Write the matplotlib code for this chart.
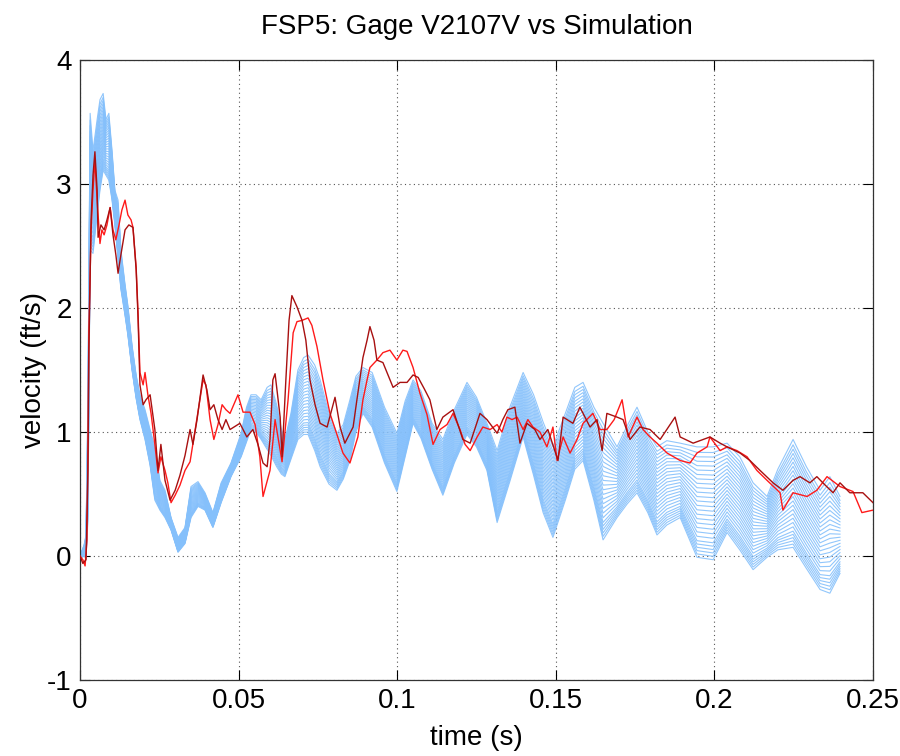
import matplotlib
matplotlib.use("Agg")
import matplotlib.pyplot as plt
import numpy as np

plt.rcParams["font.family"] = ["Liberation Sans", "DejaVu Sans"]
plt.rcParams["axes.unicode_minus"] = False

# ---- simulation ensemble: upper / lower envelope of the runs -------------
sim_time = [0.0, .0013, .0019, .0025, .0032, .0041, .0054, .0063, .0073, .0082,
            .0091, .0101, .011, .012, .0129, .0142, .0151, .0164, .0177, .0189,
            .0205, .0221, .0236, .0252, .0268, .0287, .0309, .0331, .035, .0372,
            .0394, .0419, .0445, .0476, .0508, .0525, .0539, .0555, .0571, .0590,
            .0602, .0620, .0635, .0646, .0665, .0687, .0705, .0719, .0740, .0757,
            .0785, .0810, .0830, .0851, .0870, .0892, .0921, .0960, .0999, .1025,
            .1050, .1075, .1110, .1144, .1180, .1220, .1250, .1283, .1315, .1355,
            .1397, .1430, .1460, .1491, .1530, .1560, .1586, .1620, .1649, .1693,
            .1725, .1756, .1790, .1819, .1850, .1892, .1945, .1996, .2040, .2080,
            .2122, .2166, .2200, .2248, .2290, .2333, .2364, .2396]
sim_upper = [0.00, 0.09, 0.17, 1.26, 3.57, 3.27, 3.52, 3.68, 3.73, 3.52,
             3.57, 3.27, 2.95, 2.87, 2.47, 2.19, 2.02, 1.70, 1.46, 1.30,
             1.18, 1.02, 0.88, 0.61, 0.53, 0.31, 0.15, 0.23, 0.56, 0.60,
             0.51, 0.35, 0.59, 0.75, 0.99, 1.20, 1.30, 1.30, 1.26, 1.36,
             1.38, 1.22, 1.02, 0.94, 1.15, 1.50, 1.60, 1.62, 1.54, 1.42,
             1.15, 0.99, 1.06, 1.26, 1.45, 1.52, 1.48, 1.20, 0.99, 1.25,
             1.42, 1.33, 1.07, 0.94, 1.18, 1.40, 1.28, 1.07, 0.85, 1.20,
             1.48, 1.30, 1.08, 0.88, 1.15, 1.36, 1.40, 1.20, 1.07, 0.88,
             1.05, 1.20, 1.00, 0.88, 0.93, 0.91, 0.88, 0.88, 0.91, 0.80,
             0.59, 0.48, 0.70, 0.94, 0.72, 0.53, 0.64, 0.48]
sim_lower = [-0.02, 0.00, -0.02, 0.29, 2.47, 2.44, 2.75, 2.95, 3.11, 3.07,
             3.03, 2.87, 2.67, 2.39, 2.15, 1.94, 1.78, 1.50, 1.27, 1.10,
             0.94, 0.73, 0.45, 0.37, 0.31, 0.21, 0.03, 0.10, 0.31, 0.40,
             0.37, 0.23, 0.43, 0.64, 0.80, 0.92, 1.02, 1.00, 0.94, 0.86,
             0.81, 0.72, 0.66, 0.64, 0.78, 0.94, 0.98, 0.98, 0.85, 0.72,
             0.58, 0.53, 0.62, 0.77, 1.00, 1.15, 1.04, 0.75, 0.52, 0.80,
             1.07, 0.95, 0.70, 0.49, 0.75, 0.98, 0.88, 0.69, 0.27, 0.60,
             0.96, 0.65, 0.35, 0.15, 0.45, 0.70, 0.77, 0.45, 0.13, 0.31,
             0.42, 0.51, 0.35, 0.17, 0.25, 0.31, -0.01, -0.03, 0.19, 0.05,
             -0.11, -0.01, 0.05, 0.07, -0.10, -0.27, -0.30, -0.14]
# position of each run within the envelope (0 = lower, 1 = upper)
run_position = [0.0, 0.03, 0.06, 0.09, 0.12, 0.15, 0.19, 0.23, 0.27, 0.31,
                0.35, 0.39, 0.43, 0.47, 0.51, 0.55, 0.59, 0.63, 0.67, 0.71,
                0.75, 0.79, 0.83, 0.87, 0.91, 0.95, 1.0]

# ---- gage records -----------------------------------------------------------
gage_a_time = [0, .0009, .0016, .0022, .0025, .0028, .0035, .0041, .0047, .0054,
               .0063, .0069, .0076, .0085, .0095, .0104, .0113, .0123, .0132, .0142,
               .0151, .0161, .0167, .0177, .0183, .0189, .0199, .0205, .0214, .0224,
               .0236, .0246, .0255, .0268, .0277, .0287, .03, .0315, .0331, .0347,
               .0363, .0378, .0388, .0397, .041, .0422, .0435, .0448, .046, .0473,
               .0498, .0514, .0536, .0552, .0567, .0577, .0599, .0615, .0637, .0656,
               .0672, .0684, .07, .0719, .0731, .0747, .0766, .0788, .081, .0829,
               .0851, .0876, .0892, .0905, .0914, .0936, .0955, .0977, .0999, .1018,
               .1031, .105, .1072, .1094, .1113, .1135, .1157, .1176, .1198, .1214,
               .123, .1252, .127, .1293, .1315, .133, .1346, .1362, .1378, .1397,
               .1412, .1428, .145, .1472, .1491, .1504, .1523, .1545, .1567, .1586,
               .1617, .1639, .1661, .1684, .1709, .1728, .1756, .1775, .1797, .1819,
               .1851, .1892, .1923, .1945, .1977, .1986, .2018, .204, .2071, .2103,
               .2134, .2166, .2207, .2216, .2248, .2292, .2323, .2355, .2396, .2437,
               .2465, .25]
gage_a_vel = [0, -0.03, -0.08, 0.13, 0.85, 1.82, 2.63, 2.95, 3.19, 2.87,
              2.52, 2.63, 2.59, 2.67, 2.81, 2.63, 2.55, 2.67, 2.79, 2.87,
              2.75, 2.71, 2.65, 2.33, 1.96, 1.48, 1.38, 1.48, 1.30, 1.15,
              0.90, 0.67, 0.80, 0.69, 0.59, 0.43, 0.49, 0.57, 0.69, 0.76,
              1.02, 1.26, 1.42, 1.38, 1.10, 0.94, 1.06, 1.22, 1.18, 1.15,
              1.30, 1.16, 1.16, 1.06, 0.80, 0.48, 0.69, 1.10, 0.76, 1.26,
              1.80, 1.89, 1.90, 1.92, 1.86, 1.69, 1.42, 1.15, 0.98, 0.83,
              0.75, 0.96, 1.26, 1.42, 1.52, 1.58, 1.64, 1.66, 1.58, 1.66,
              1.65, 1.52, 1.31, 1.14, 0.90, 1.02, 1.06, 1.15, 1.02, 0.90,
              0.85, 0.96, 1.04, 1.02, 1.06, 1.00, 1.12, 1.10, 1.12, 1.02,
              1.10, 1.04, 1.00, 0.88, 1.04, 0.77, 0.96, 0.83, 0.94, 1.07,
              1.15, 1.02, 1.02, 1.10, 1.26, 0.96, 1.12, 1.02, 0.96, 0.91,
              0.83, 0.77, 0.75, 0.83, 0.88, 0.96, 0.85, 0.88, 0.85, 0.80,
              0.69, 0.61, 0.51, 0.37, 0.51, 0.48, 0.53, 0.64, 0.56, 0.52,
              0.35, 0.37]

gage_b_time = [0, .0009, .0019, .0025, .0028, .0035, .0041, .0047, .0054, .0057,
               .0066, .0076, .0085, .0095, .0104, .0113, .012, .0129, .0142, .0154,
               .0167, .0177, .0183, .0189, .0199, .0208, .0221, .0236, .0246, .0255,
               .0268, .0284, .03, .0315, .0331, .0347, .0356, .0369, .0388, .04,
               .041, .0422, .0435, .0448, .046, .0473, .0504, .0526, .0545, .0561,
               .0577, .059, .0599, .0608, .0615, .0631, .0637, .0649, .0659, .0668,
               .0684, .07, .0712, .0725, .0741, .0757, .0779, .0804, .082, .0835,
               .0861, .0873, .0892, .0905, .0914, .0927, .0936, .0955, .0971, .0987,
               .1009, .1031, .105, .1066, .1085, .1103, .1125, .1144, .1176, .1207,
               .123, .1261, .1283, .1315, .1333, .1349, .1371, .1387, .1409, .1434,
               .145, .1475, .1497, .1507, .1523, .1554, .1576, .1608, .163, .1646,
               .1661, .1693, .1712, .1734, .1765, .1797, .1829, .1876, .1892, .1933,
               .1986, .2018, .204, .2081, .2112, .2144, .2185, .2216, .2248, .227,
               .2301, .2323, .2342, .2374, .2396, .2427, .2468, .25]
gage_b_vel = [0, -0.06, -0.03, 0.69, 1.66, 2.71, 3.07, 3.26, 2.95, 2.57,
              2.67, 2.63, 2.71, 2.81, 2.59, 2.43, 2.28, 2.43, 2.63, 2.67,
              2.65, 2.31, 1.92, 1.38, 1.22, 1.26, 1.30, 1.02, 0.69, 0.90,
              0.61, 0.45, 0.53, 0.65, 0.81, 1.02, 0.90, 1.10, 1.46, 1.34,
              1.18, 1.22, 1.10, 1.02, 1.10, 1.02, 1.07, 0.96, 1.02, 0.90,
              0.75, 0.72, 0.94, 1.42, 1.47, 1.12, 0.80, 1.42, 1.90, 2.10,
              2.01, 1.90, 1.74, 1.42, 1.22, 1.07, 1.04, 1.28, 1.04, 0.91,
              1.04, 1.26, 1.60, 1.74, 1.85, 1.74, 1.58, 1.56, 1.46, 1.36,
              1.40, 1.40, 1.46, 1.44, 1.35, 1.26, 1.02, 1.12, 1.18, 0.94,
              0.91, 1.15, 1.10, 0.99, 1.10, 1.18, 1.20, 0.91, 1.07, 1.02,
              0.94, 1.02, 0.85, 0.77, 1.12, 1.07, 1.20, 1.04, 1.10, 0.85,
              1.15, 1.12, 1.10, 0.94, 1.04, 1.02, 0.94, 1.12, 0.96, 0.91,
              0.96, 0.91, 0.88, 0.83, 0.77, 0.69, 0.59, 0.53, 0.61, 0.64,
              0.59, 0.64, 0.59, 0.51, 0.59, 0.51, 0.51, 0.43]

x_ticks = [0, 0.05, 0.1, 0.15, 0.2, 0.25]
x_tick_labels = ["0", "0.05", "0.1", "0.15", "0.2", "0.25"]
y_ticks = [-1, 0, 1, 2, 3, 4]

# ---- figure -------------------------------------------------------------------
fig = plt.figure(figsize=(9.0, 7.56), dpi=100)
ax = fig.add_axes([80 / 900, 1 - 680 / 756, 793 / 900, 620 / 756])

t_sim = np.asarray(sim_time)
lo = np.asarray(sim_lower)
hi = np.asarray(sim_upper)
for p in run_position:
    ax.plot(t_sim, lo + p * (hi - lo), color="#85c0fb", lw=0.8, alpha=0.9, zorder=2)

ax.plot(gage_a_time, gage_a_vel, color="#ff1a1a", lw=1.0, zorder=3)
ax.plot(gage_b_time, gage_b_vel, color="#a81010", lw=1.0, zorder=4)

ax.set_xlim(0, 0.25)
ax.set_ylim(-1, 4)
ax.set_xticks(x_ticks)
ax.set_xticklabels(x_tick_labels)
ax.set_yticks(y_ticks)
ax.tick_params(direction="in", length=7, width=0.8, top=True, right=True,
               labelsize=20, colors="black", pad=6)
ax.grid(True, color="#555555", linestyle=(0, (1, 3)), lw=0.8)
for s in ax.spines.values():
    s.set_color("#333333")
    s.set_linewidth(0.9)

ax.set_title("FSP5: Gage V2107V vs Simulation", fontsize=20, y=1.042, pad=0)
ax.set_xlabel("time (s)", fontsize=20)
ax.set_ylabel("velocity (ft/s)", fontsize=20)
ax.xaxis.set_label_coords(0.5, -0.072)
ax.yaxis.set_label_coords(-0.042, 0.5)

fig.savefig("out.png", dpi=100)
